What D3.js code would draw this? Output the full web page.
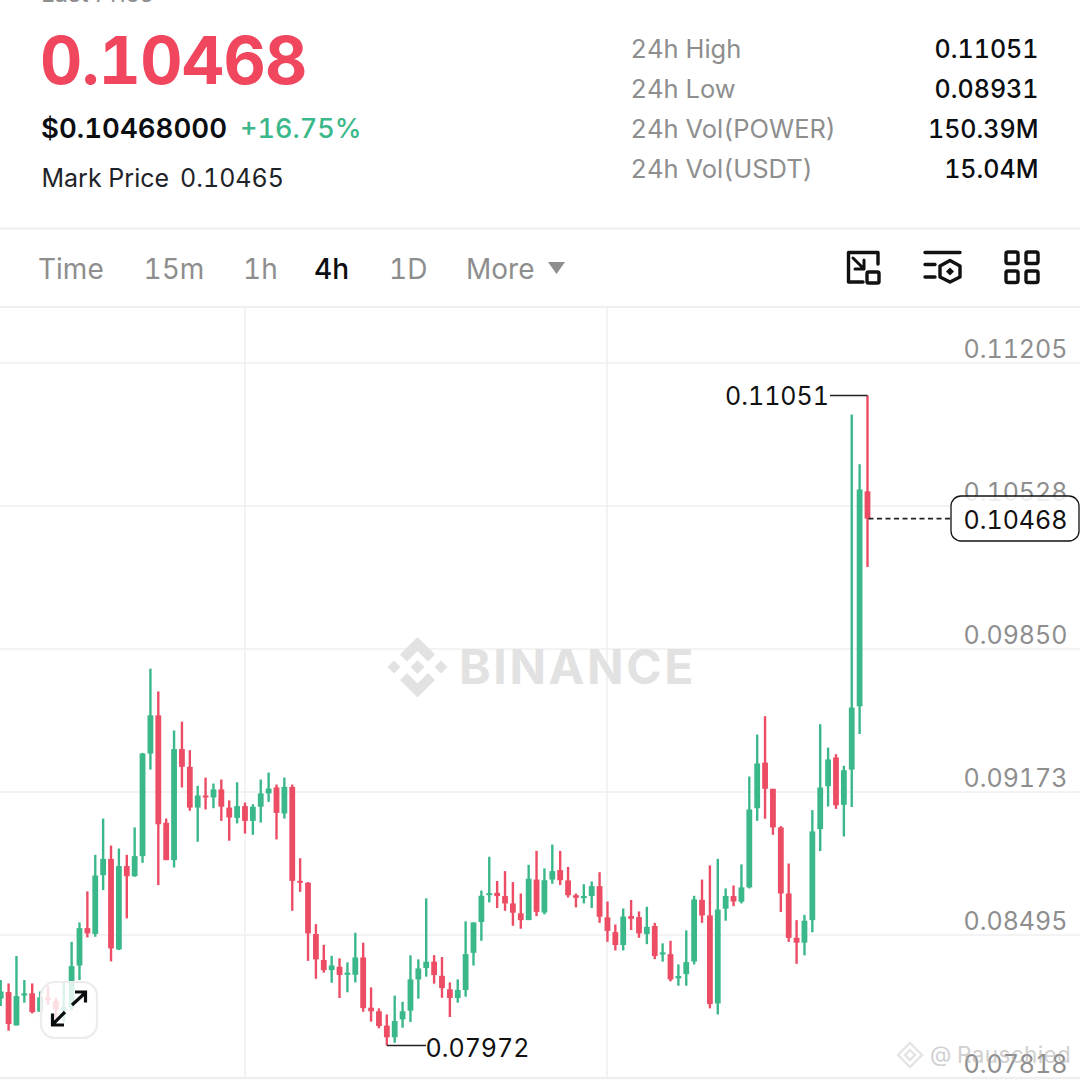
<!DOCTYPE html>
<html><head><meta charset="utf-8">
<style>html,body{margin:0;padding:0;background:#fff;overflow:hidden}svg{display:block}text{font-family:Inter,Roboto,sans-serif;font-variant-numeric:tabular-nums;font-feature-settings:"tnum" 1}</style>
<script src="https://cdn.jsdelivr.net/npm/d3@7"></script>
</head><body>
<script>
const priceTicks=[0.11205,0.10528,0.09850,0.09173,0.08495,0.07818];
const stats=[["24h High","0.11051"],["24h Low","0.08931"],["24h Vol(POWER)","150.39M"],["24h Vol(USDT)","15.04M"]];
const tabs=[["Time",38],["15m",143.5],["1h",243],["4h",314],["1D",389],["More",466]];
const opens=[8194,8225,8067,8209,8219,8132,8200,8184,8137,8153,8351,8528,8500,8779,8856,8427,8822,8774,8869,9355,9536,9027,8850,9376,9292,9099,9156,9147,9185,9099,9050,9106,9036,9103,9166,9194,9071,9197,
8752,8743,8500,8377,8329,8345,8307,8307,8389,8151,8134,8066,8011,8096,8137,8285,8339,8369,8302,8238,8197,8235,8411,8557,8684,8695,8680,8645,8598,8566,8758,8602,8758,8803,8754,8684,
8670,8680,8727,8579,8509,8448,8585,8580,8500,8538,8403,8405,8290,8310,8370,8662,8588,8171,8620,8680,8653,8721,9096,9312,9188,9005,8692,8482,8459,8566,8997,9200,9336,9112,9279,9579,10597];
const closes=[8228,8074,8206,8219,8130,8200,8187,8143,8153,8348,8528,8503,8777,8856,8432,8822,8774,8869,9355,9536,9020,8850,9376,9292,9099,9156,9147,9185,9103,9052,9106,9036,9103,9166,9189,9074,9197,8752,
8743,8503,8380,8329,8351,8306,8317,8389,8149,8134,8064,8011,8088,8134,8285,8337,8369,8306,8244,8197,8235,8405,8555,8681,8694,8680,8645,8601,8566,8762,8605,8755,8798,8755,8684,8672,
8680,8727,8582,8515,8448,8583,8572,8503,8534,8396,8413,8285,8301,8367,8664,8588,8168,8616,8680,8654,8721,9090,9308,9188,9005,8692,8482,8459,8563,8986,9194,9327,9110,9276,9573,10606,10468];
const highs=[8282,8266,8396,8282,8266,8228,8254,8200,8269,8463,8555,8702,8875,9047,8919,8905,8875,9005,9358,9757,9649,9047,9464,9506,9371,9202,9241,9213,9232,9133,9219,9123,9115,9232,9265,9208,9241,9208,
8859,8746,8547,8449,8397,8385,8366,8506,8459,8247,8148,8119,8208,8179,8399,8380,8669,8400,8391,8271,8285,8560,8555,8706,8866,8751,8798,8746,8692,8828,8894,8811,8924,8894,8818,8692,
8736,8749,8793,8654,8545,8621,8661,8607,8629,8553,8456,8468,8356,8517,8681,8758,8825,8856,8716,8730,8830,9246,9445,9532,9188,9011,8834,8566,8591,9087,9494,9383,9352,9297,10961,10725,11051];
const lows=[8159,8042,8067,8175,8124,8132,8164,8100,8085,8140,8282,8484,8487,8708,8370,8424,8574,8771,8837,9279,8732,8850,8815,9194,9084,8937,9090,9096,9036,8942,9024,8976,8970,9028,9126,8948,9047,8610,
8700,8373,8288,8317,8269,8197,8224,8271,8132,8085,8053,7972,7985,8056,8083,8194,8298,8265,8198,8107,8175,8203,8351,8468,8650,8623,8610,8539,8525,8566,8585,8593,8738,8732,8673,8626,
8645,8623,8553,8463,8422,8422,8519,8482,8452,8381,8369,8276,8255,8255,8356,8553,8148,8119,8563,8632,8645,8716,9036,9046,8970,8604,8463,8359,8399,8508,8893,9104,9093,8962,9102,9447,10239];
const lastPrice=0.10468, highLabel=0.11051, lowLabel=0.07972;

const GREEN="#3bb88a",RED="#ec4d65",GRID="#efefef",GREY="#8e8e8e";
const svg=d3.select("body").append("svg").attr("width",1080).attr("height",1080);
const txt=(s,x,y,size,fill,weight=400,anchor="start")=>svg.append("text").attr("x",x).attr("y",y).attr("font-size",size).attr("fill",fill).attr("font-weight",weight).attr("text-anchor",anchor).text(s);

// Header
txt("Last Price",41,2,24,GREY);
txt("0.10468",40,84,65.5,"#f0475f",700).attr("letter-spacing",-0.7);
txt("$0.10468000",41,138,27.6,"#0b0e11",600);
txt("+16.75%",240,138,27,"#3bb88a",500);
txt("Mark Price",41.5,187,25,"#1e2329");
txt("0.10465",180,187,25,"#1e2329");
stats.forEach((d,i)=>{
  txt(d[0],630.5,58+i*40,25.5,GREY);
  txt(d[1],1038.5,58+i*40,25,"#0b0e11",500,"end");
});
svg.append("line").attr("x1",0).attr("x2",1080).attr("y1",228.5).attr("y2",228.5).attr("stroke",GRID).attr("stroke-width",2);
svg.append("line").attr("x1",0).attr("x2",1080).attr("y1",307).attr("y2",307).attr("stroke",GRID).attr("stroke-width",2);
tabs.forEach(d=>txt(d[0],d[1],279,28,d[0]==="4h"?"#0b0e11":GREY,d[0]==="4h"?500:400));
svg.append("path").attr("d","M548 262H565L556.5 274Z").attr("fill",GREY);

// Toolbar icons
const ic=svg.append("g").attr("fill","none").attr("stroke","#111").attr("stroke-width",3.4).attr("stroke-linejoin","round").attr("stroke-linecap","round");
ic.append("path").attr("d","M878 264V252.5H848.5V282H863");
ic.append("rect").attr("x",867).attr("y",272).attr("width",12).attr("height",11).attr("rx",1.5);
ic.append("path").attr("d","M853 258L864 269M864 260V269H855").attr("stroke-width",3);
ic.append("path").attr("d","M925 252.5H960M925 264.5H935M925 277H935");
ic.append("path").attr("d","M950 260.5L960 266V277L950 282L940 277V266Z");
svg.append("path").attr("d","M950 267.5L954 271.5L950 275.5L946 271.5Z").attr("fill","#111");
[[1006,252],[1026,252],[1006,271],[1026,271]].forEach(p=>ic.append("rect").attr("x",p[0]).attr("y",p[1]).attr("width",12).attr("height",11.5).attr("rx",2));

// Scales
const y=d3.scaleLinear().domain([0.07818,0.11205]).range([1078,363]);
const x=d3.scaleLinear().domain([0,opens.length-1]).range([0.7,867.5]);

// Grid
svg.selectAll(".h").data(priceTicks).join("line").attr("x1",0).attr("x2",1080)
  .attr("y1",d=>y(d)).attr("y2",d=>y(d)).attr("stroke",GRID).attr("stroke-width",d=>d===0.07818?2.5:1.5);
[245,607].forEach(v=>svg.append("line").attr("x1",v).attr("x2",v).attr("y1",308).attr("y2",1078).attr("stroke",GRID).attr("stroke-width",1.5));

// Watermark
const wm=svg.append("g").attr("fill","#e2e2e2");
const dia=(cx,cy,r)=>`M${cx} ${cy-r}L${cx+r} ${cy}L${cx} ${cy+r}L${cx-r} ${cy}Z`;
wm.append("path").attr("d",dia(417.5,667,7)+dia(394,667,6.5)+dia(441,667,6.5));
wm.append("path").attr("d","M417.5 637L435 654.5L428 661.5L417.5 651L407 661.5L400 654.5Z");
wm.append("path").attr("d","M417.5 697.5L435 680L428 673L417.5 683.5L407 673L400 680Z");
wm.append("text").attr("x",459).attr("y",684).attr("font-size",48).attr("font-weight",700).attr("letter-spacing",2.6).text("BINANCE");

// Candles
const data=opens.map((o,i)=>({i,o:o/1e5,c:closes[i]/1e5,h:highs[i]/1e5,l:lows[i]/1e5}));
const col=d=>d.c>=d.o?GREEN:RED;
const g=svg.append("g");
g.selectAll(".w").data(data).join("line").attr("x1",d=>x(d.i)).attr("x2",d=>x(d.i))
  .attr("y1",d=>y(d.h)).attr("y2",d=>y(d.l)).attr("stroke",col).attr("stroke-width",2.4);
g.selectAll(".b").data(data).join("rect").attr("x",d=>x(d.i)-2.9).attr("width",5.8)
  .attr("y",d=>y(Math.max(d.o,d.c))).attr("height",d=>Math.max(1.5,Math.abs(y(d.o)-y(d.c)))).attr("fill",col);

// Axis labels
svg.append("g").selectAll("text").data(priceTicks).join("text").attr("x",1067.5).attr("y",d=>y(d)-5)
  .attr("text-anchor","end").attr("font-size",25).attr("fill",GREY).text(d=>d.toFixed(5));

// High / low markers
const hi=x(opens.length-1), loX=x(49);
svg.append("path").attr("d",`M830 ${y(highLabel)}H${hi}`).attr("stroke","#222").attr("stroke-width",1.5).attr("fill","none");
txt(highLabel.toFixed(5),829,405,25,"#111",400,"end");
svg.append("path").attr("d",`M${loX} ${y(lowLabel)}H426`).attr("stroke","#222").attr("stroke-width",1.5).attr("fill","none");
txt(lowLabel.toFixed(5),425.5,1057,25,"#111");

// Last price
svg.append("line").attr("x1",hi+1).attr("x2",950).attr("y1",y(lastPrice)).attr("y2",y(lastPrice)).attr("stroke","#222").attr("stroke-width",1.6).attr("stroke-dasharray","5 3.5");
svg.append("rect").attr("x",951).attr("y",496).attr("width",128).attr("height",45).attr("rx",10).attr("fill","#fff").attr("fill-opacity",.85).attr("stroke","#111").attr("stroke-width",1.3);
txt(lastPrice.toFixed(5),1067.5,529,25,"#111",400,"end");

// Expand button
svg.append("rect").attr("x",41).attr("y",982).attr("width",56).attr("height",56).attr("rx",14).attr("fill","#fff").attr("fill-opacity",.82).attr("stroke","#ececec").attr("stroke-width",2.2);
const ar=svg.append("g").attr("fill","none").attr("stroke","#0b0e11").attr("stroke-width",3.2);
ar.append("path").attr("d","M72 1005L85 993M75 992H85.5V1002.5");
ar.append("path").attr("d","M65 1012L53 1024M52.5 1013.5V1025H64");

// Corner credit
const cr=svg.append("g").attr("opacity",.55);
cr.append("path").attr("fill","none").attr("stroke","#cfcfcf").attr("stroke-width",2.4).attr("d",dia(910,1055,12)+dia(910,1055,5));
cr.append("text").attr("x",930).attr("y",1062).attr("font-size",22).attr("fill","#aaa").text("@");
cr.append("text").attr("x",957).attr("y",1063).attr("font-size",22.5).attr("fill","#aaa").attr("letter-spacing",.4).text("Rauschied");
</script>
</body></html>
